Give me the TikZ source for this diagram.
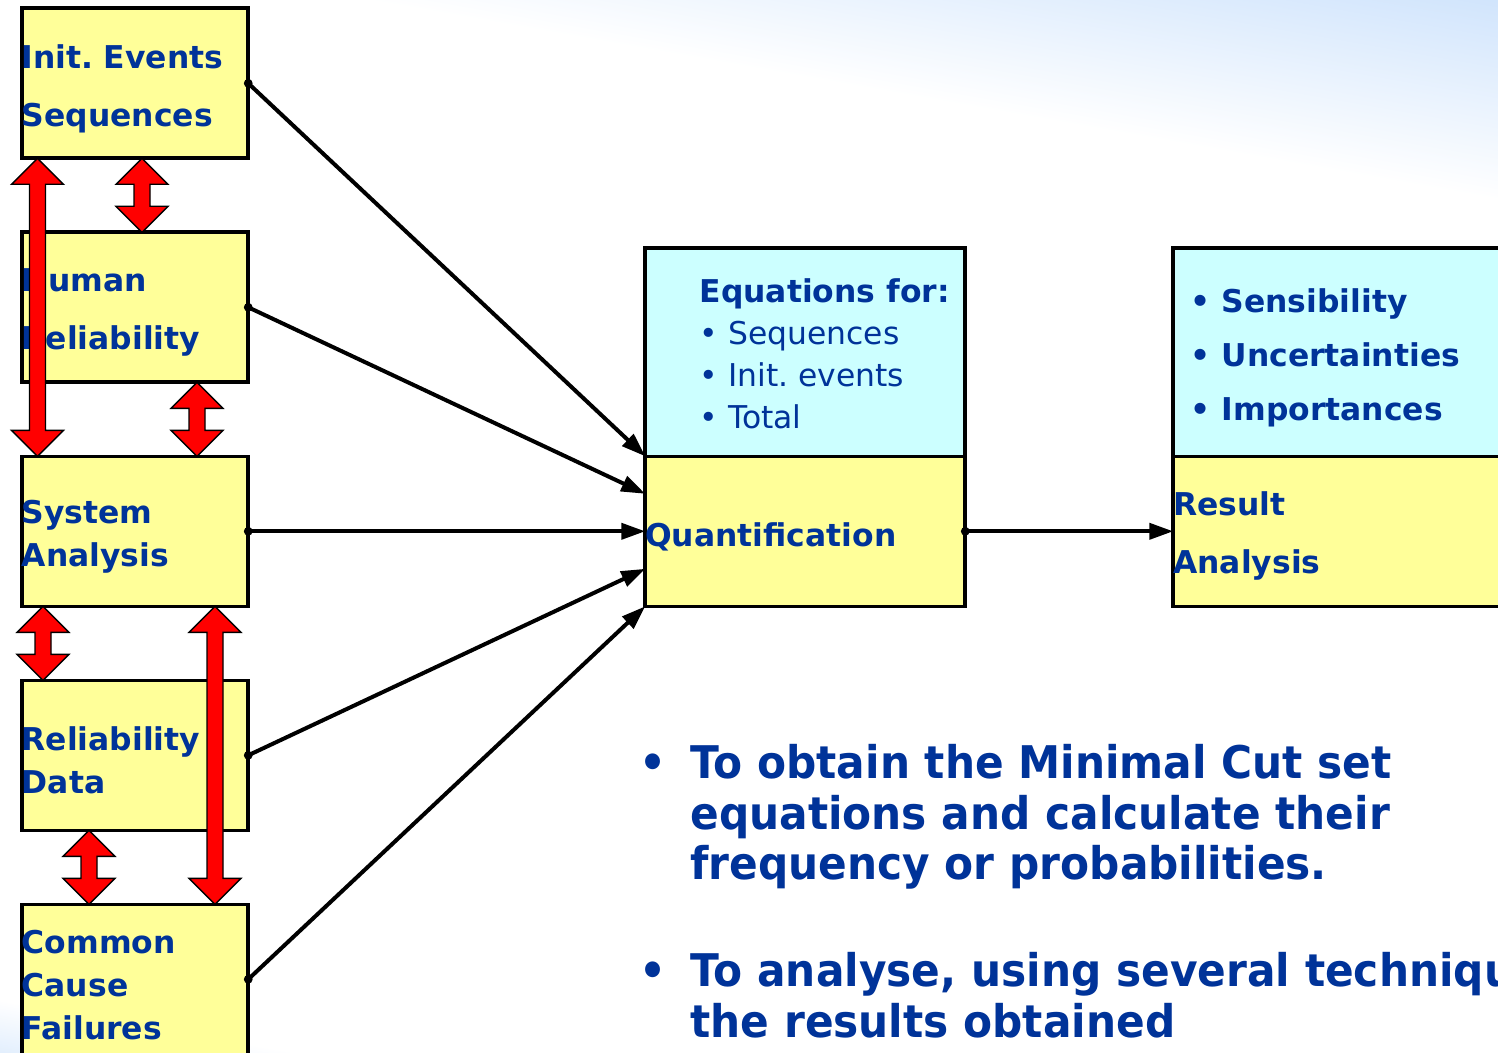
\documentclass[tikz,border=0pt]{standalone}
\usepackage{fontspec}
\setmainfont{DejaVu Sans}
\newfontfamily\narrowfont[FakeStretch=0.94]{DejaVu Sans}
\usepackage{tikz}
\usetikzlibrary{positioning,arrows.meta,calc}
\frenchspacing

\definecolor{txtblue}{HTML}{003399}
\definecolor{boxyellow}{HTML}{FFFF99}
\definecolor{boxcyan}{HTML}{CCFFFF}
\definecolor{skyblue}{HTML}{5BA1F5}

% red block arrow with heads at both ends, x position given in px
\newcommand\duoarrow[3]{%
  \draw[redarr] (#1,0 |- #2.south) -- ++(26,26) -- ++(-18,0)
    -- ($(#1,0 |- #3.north)+(8,-26)$) -- ++(18,0) -- (#1,0 |- #3.north)
    -- ++(-26,-26) -- ++(18,0) -- ($(#1,0 |- #2.south)+(-8,26)$) -- ++(-18,0) -- cycle;}

\begin{document}
\begin{tikzpicture}[
  x=0.5pt, y=-0.5pt,
  node distance=37pt and 104pt,
  box/.style={rectangle, draw=black, line width=1.8pt, fill=boxyellow, outer sep=0pt, inner sep=0pt, minimum width=113.25pt, minimum height=75pt, text width=113.25pt, align=left, text=txtblue, font=\bfseries\fontsize{15.7}{29}\selectfont, execute at begin node={\rule{0pt}{17pt}}},
  tightbox/.style={box, font=\bfseries\fontsize{15.7}{21.5}\selectfont},
  infobox/.style={box, fill=boxcyan, minimum height=104pt},
  listtxt/.style={anchor=west, inner sep=0pt, align=left, text=txtblue},
  itemtxt/.style={anchor=north west, inner sep=0pt, align=left, text=txtblue, font=\narrowfont\bfseries\fontsize{22.5}{25.25}\selectfont},
  conn/.style={-{Triangle[length=12pt,width=8pt]}, line width=2pt},
  redarr/.style={fill=red, draw=black, line width=0.7pt, line join=miter},
]
\useasboundingbox (0,0) rectangle (1498,1053);
\clip (0,0) rectangle (1498,1053);
\fill[white] (0,0) rectangle (1498,1053);
\begin{scope}[transform canvas={rotate around={-10:(1498,200)}}]
  \shade[top color=skyblue, bottom color=white] (300,-500) rectangle (1700,200);
\end{scope}
\begin{scope}[transform canvas={rotate around={-10:(0,1000)}}]
  \shade[top color=white, bottom color=skyblue] (-100,1000) rectangle (400,1300);
\end{scope}

\node[box] (init) at (135,83.3) {Init. Events\\Sequences};
\node[box, below=of init] (human) {Human\\Reliability};
\node[tightbox, below=of human] (system) {System\\Analysis};
\node[tightbox, below=of system] (reliab) {Reliability\\Data};
\node[tightbox, below=of reliab] (ccf) {Common\\Cause\\Failures};

\node[box, minimum width=160pt, text width=160pt, right=198.5pt of system] (quant) {Quantification};
\node[infobox, minimum width=160pt, text width=160pt, above=0pt of quant] (eqbox) {};
\node[listtxt, font=\fontsize{15.7}{21}\selectfont] (eqtxt) at ($(eqbox.west)+(54,1)$)
  {\textbf{Equations for:}\\• Sequences\\• Init. events\\• Total};

\node[box, minimum width=170pt, text width=170pt, right=of quant] (result) {Result\\Analysis};
\node[infobox, minimum width=170pt, text width=170pt, above=0pt of result] (resbox) {};
\node[listtxt, font=\bfseries\fontsize{15.7}{27}\selectfont] (restxt) at ($(resbox.west)+(17,6)$)
  {• Sensibility\\• Uncertainties\\• Importances};

\duoarrow{37.5}{init}{system}
\duoarrow{142}{init}{human}
\duoarrow{197}{human}{system}
\duoarrow{43}{system}{reliab}
\duoarrow{215}{system}{ccf}
\duoarrow{89}{reliab}{ccf}

\coordinate (q1) at (quant.north west);
\coordinate (q2) at ($(quant.north west)!0.25!(quant.south west)$);
\coordinate (q3) at (quant.west);
\coordinate (q4) at ($(quant.north west)!0.75!(quant.south west)$);
\coordinate (q5) at (quant.south west);
\foreach \src [count=\i] in {init,human,system,reliab,ccf}{
  \fill (\src.east) circle (2.2pt);
  \draw[conn] (\src.east) -- (q\i);
}
\fill (quant.east) circle (2.2pt);
\draw[conn] (quant.east) -- (result.west);

\node[itemtxt] (goal1) at (690,744) {\llap{•\hspace{12pt}}To obtain the Minimal Cut set\\equations and calculate their\\frequency or probabilities.};
\node[itemtxt] (goal2) at (690,952) {\llap{•\hspace{12pt}}To analyse, using several techniques\\the results obtained};
\end{tikzpicture}
\end{document}
